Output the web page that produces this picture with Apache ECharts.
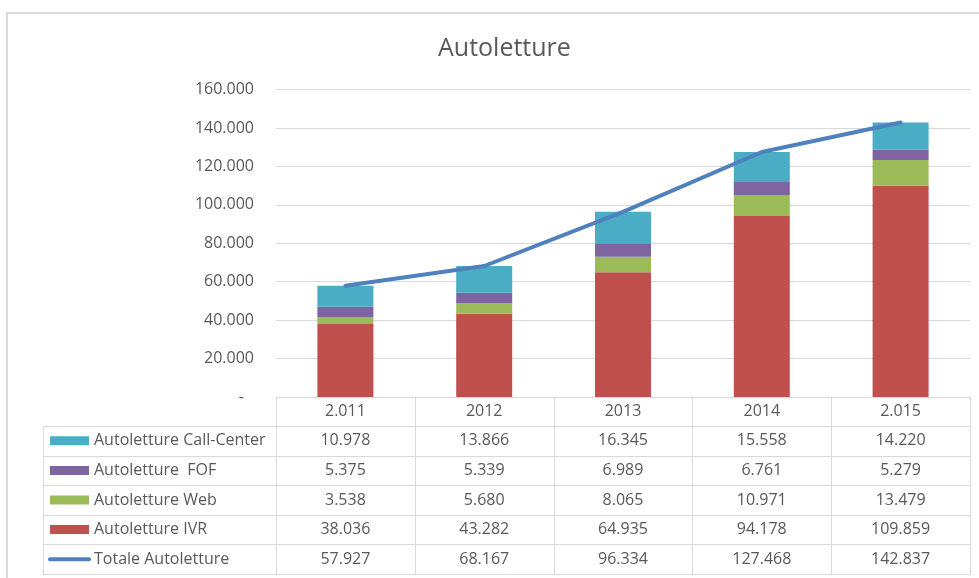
<!DOCTYPE html>
<html>
<head>
<meta charset="utf-8">
<title>Autoletture</title>
<script src="https://cdn.jsdelivr.net/npm/echarts@6/dist/echarts.min.js"></script>
<style>
  html, body { margin: 0; padding: 0; background: #ffffff; }
  #chart { width: 979px; height: 578px; }
</style>
</head>
<body>
<div id="chart"></div>
<script>
// Years shown on the category axis (as written in the source sheet)
const categories = ['2.011', '2012', '2013', '2014', '2.015'];

// Readings per channel
const callCenter = [10978, 13866, 16345, 15558, 14220];
const fof        = [5375, 5339, 6989, 6761, 5279];
const web        = [3538, 5680, 8065, 10971, 13479];
const ivr        = [38036, 43282, 64935, 94178, 109859];
const totale     = [57927, 68167, 96334, 127468, 142837];

// Series names, as listed in the data table
const nameCall = 'Autoletture Call-Center';
const nameFof  = 'Autoletture  FOF';
const nameWeb  = 'Autoletture Web';
const nameIvr  = 'Autoletture IVR';
const nameTot  = 'Totale Autoletture';

const COLORS = {
  call: '#4bacc6', fof: '#8064a2', web: '#9bbb59', ivr: '#c0504d', tot: '#4f81bd'
};
const TEXT = '#595959';
const RULE = '#d9d9d9';
const FONT = '"Open Sans", "Noto Sans", sans-serif';

// Italian-style thousands separator
function fmt(v) {
  const s = String(Math.round(v));
  return s.replace(/\B(?=(\d{3})+(?!\d))/g, '.');
}

const chart = echarts.init(document.getElementById('chart'), null, { renderer: 'canvas' });

const option = {
  animation: false,
  backgroundColor: '#ffffff',
  textStyle: { fontFamily: FONT },
  title: {
    text: 'Autoletture',
    left: 433,
    top: 31,
    textStyle: { fontFamily: FONT, fontSize: 25, fontWeight: 'normal', color: TEXT }
  },
  grid: { left: 276, right: 9, top: 89.5, bottom: 181, containLabel: false },
  xAxis: {
    type: 'category',
    data: categories,
    axisLine: { show: true, lineStyle: { color: RULE, width: 1 } },
    axisTick: { show: false },
    axisLabel: { color: TEXT, fontSize: 16, fontFamily: FONT, margin: 6 },
    splitLine: { show: false }
  },
  yAxis: {
    type: 'value',
    min: 0,
    max: 160000,
    interval: 20000,
    axisLine: { show: false },
    axisTick: { show: false },
    splitLine: { lineStyle: { color: RULE, width: 1 } },
    axisLabel: {
      color: TEXT,
      fontSize: 16,
      fontFamily: FONT,
      margin: 22,
      formatter: v => (v === 0 ? '{z|-}' : fmt(v)),
      rich: { z: { color: TEXT, fontSize: 16, fontFamily: FONT, padding: [0, 10, 0, 0] } }
    }
  },
  series: [
    { name: nameIvr, type: 'bar', stack: 'tot', data: ivr, barWidth: 56, itemStyle: { color: COLORS.ivr } },
    { name: nameWeb, type: 'bar', stack: 'tot', data: web, barWidth: 56, itemStyle: { color: COLORS.web } },
    { name: nameFof, type: 'bar', stack: 'tot', data: fof, barWidth: 56, itemStyle: { color: COLORS.fof } },
    { name: nameCall, type: 'bar', stack: 'tot', data: callCenter, barWidth: 56, itemStyle: { color: COLORS.call } },
    {
      name: nameTot, type: 'line', data: totale, symbol: 'none', z: 5,
      lineStyle: { color: COLORS.tot, width: 4, cap: 'round', join: 'round' }
    }
  ]
};

chart.setOption(option);

// ---- Data table below the plot ----
const centers = categories.map((c, i) => chart.convertToPixel({ xAxisIndex: 0 }, i));
const band = centers[1] - centers[0];
const gLeft = centers[0] - band / 2;
const gRight = centers[centers.length - 1] + band / 2;
const axisY = chart.convertToPixel({ yAxisIndex: 0 }, 0);

const headerH = 29;
const rowH = 29.6;
const tableLeft = 43;
const rowsTop = axisY + headerH;

const rows = [
  { name: nameCall, values: callCenter, color: COLORS.call, key: 'rect' },
  { name: nameFof,  values: fof,        color: COLORS.fof,  key: 'rect' },
  { name: nameWeb,  values: web,        color: COLORS.web,  key: 'rect' },
  { name: nameIvr,  values: ivr,        color: COLORS.ivr,  key: 'rect' },
  { name: nameTot,  values: totale,     color: COLORS.tot,  key: 'line' }
];
const tableBottom = rowsTop + rows.length * rowH;

const px = v => Math.round(v) + 0.5;
const els = [];

// Horizontal rules
for (let r = 0; r <= rows.length; r++) {
  const y = px(rowsTop + r * rowH);
  els.push({ type: 'line', silent: true, shape: { x1: tableLeft, y1: y, x2: gRight, y2: y },
             style: { stroke: RULE, lineWidth: 1 } });
}
// Vertical rules
els.push({ type: 'line', silent: true, shape: { x1: px(tableLeft), y1: px(rowsTop), x2: px(tableLeft), y2: px(tableBottom) },
           style: { stroke: RULE, lineWidth: 1 } });
for (let k = 0; k <= categories.length; k++) {
  const x = px(gLeft + k * band);
  els.push({ type: 'line', silent: true, shape: { x1: x, y1: px(axisY), x2: x, y2: px(tableBottom) },
             style: { stroke: RULE, lineWidth: 1 } });
}

// Row labels with legend keys, then the values
rows.forEach((row, r) => {
  const cy = rowsTop + r * rowH + rowH / 2;
  if (row.key === 'rect') {
    els.push({ type: 'rect', silent: true, shape: { x: 50, y: cy - 4.5, width: 39, height: 9 },
               style: { fill: row.color } });
  } else {
    els.push({ type: 'line', silent: true, shape: { x1: 50, y1: cy, x2: 89, y2: cy },
               style: { stroke: row.color, lineWidth: 4, lineCap: 'round' } });
  }
  els.push({ type: 'text', silent: true,
             style: { text: row.name, x: 94, y: cy, font: '16px ' + FONT, fill: TEXT,
                      align: 'left', verticalAlign: 'middle', textAlign: 'left', textVerticalAlign: 'middle' } });
  row.values.forEach((v, i) => {
    els.push({ type: 'text', silent: true,
               style: { text: fmt(v), x: centers[i], y: cy, font: '16px ' + FONT, fill: TEXT,
                        align: 'center', verticalAlign: 'middle', textAlign: 'center', textVerticalAlign: 'middle' } });
  });
});

// Chart area frame
els.push({ type: 'rect', silent: true, z: -1, shape: { x: 7, y: 13, width: 1000, height: 600 },
           style: { fill: 'none', stroke: RULE, lineWidth: 2 } });

chart.setOption({ graphic: { elements: els } });
</script>
</body>
</html>
